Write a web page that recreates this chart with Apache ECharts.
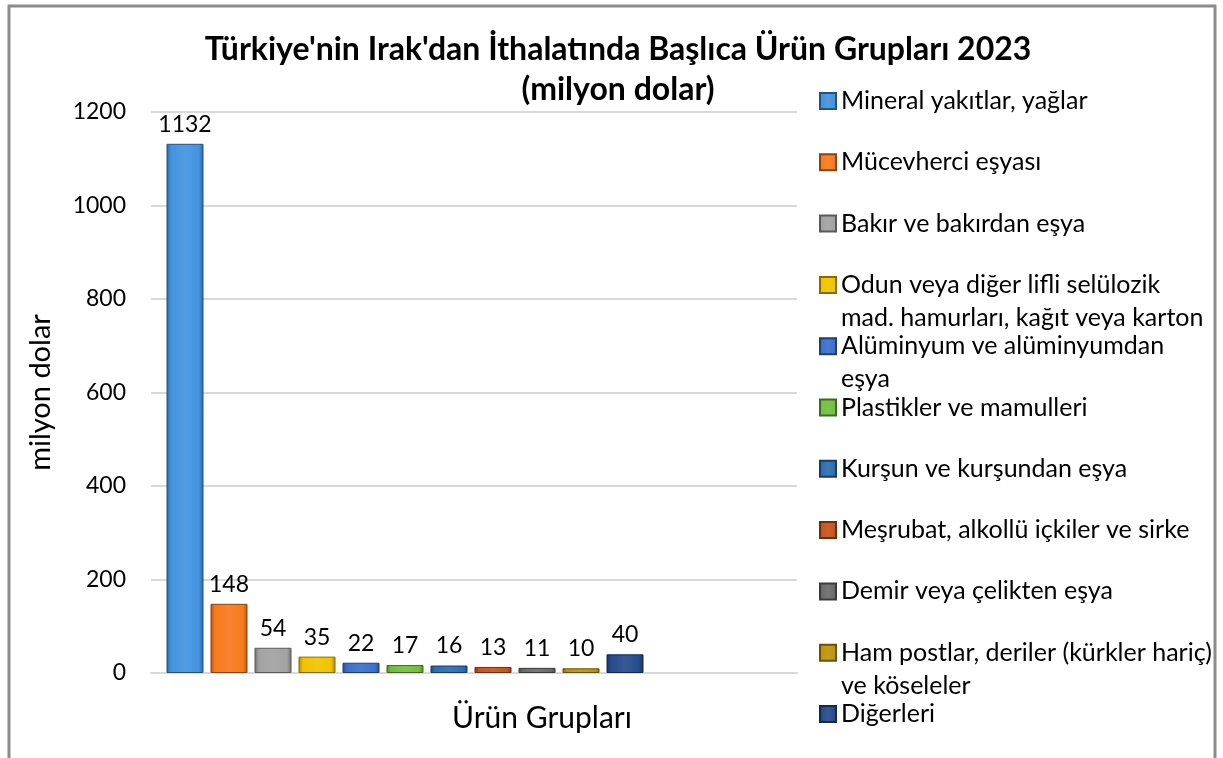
<!DOCTYPE html>
<html>
<head>
<meta charset="utf-8">
<script src="https://cdn.jsdelivr.net/npm/echarts@6/dist/echarts.min.js"></script>
<style>
  html, body { margin: 0; padding: 0; background: #fff; }
  #chart { width: 1223px; height: 758px; }
</style>
</head>
<body>
<div id="chart"></div>
<script>
// ürün grupları (legend metni, satır kırılımları ile)
const groupLabels = [
  'Mineral yakıtlar, yağlar',
  'Mücevherci eşyası',
  'Bakır ve bakırdan eşya',
  'Odun veya diğer lifli selülozik\nmad. hamurları, kağıt veya karton',
  'Alüminyum ve alüminyumdan\neşya',
  'Plastikler ve mamulleri',
  'Kurşun ve kurşundan eşya',
  'Meşrubat, alkollü içkiler ve sirke',
  'Demir veya çelikten eşya',
  'Ham postlar, deriler (kürkler hariç)\nve köseleler',
  'Diğerleri'
]
// milyon dolar
const importValues = [1132, 148, 54, 35, 22, 17, 16, 13, 11, 10, 40]
const barColors = ['#4393e0', '#f77a1c', '#a2a2a2', '#f2c300', '#3a70cc', '#72bf3e', '#2d6db0', '#c5541c', '#6b6b6b', '#be940c', '#264b8c']
const yTicks = [0, 200, 400, 600, 800, 1000, 1200]

const FONT = 'Lato'
const groupNames = groupLabels.map(s => s.replace('\n', ' '))

const chart = echarts.init(document.getElementById('chart'))

// renk tonu
function shade (hex, k) {
  const n = parseInt(hex.slice(1), 16)
  const f = c => Math.max(0, Math.min(255, Math.round(k < 0 ? c * (1 + k) : c + (255 - c) * k)))
  const r = f(n >> 16), g = f((n >> 8) & 255), b = f(n & 255)
  return 'rgb(' + r + ',' + g + ',' + b + ')'
}

const series = groupNames.map((name, i) => ({
  name: name,
  type: 'bar',
  xAxisIndex: 1,
  yAxisIndex: 1,
  stack: 'all',
  barWidth: 37,
  data: importValues.map((v, j) => (j === i ? v : '-')),
  itemStyle: {
    color: new echarts.graphic.LinearGradient(0, 0, 1, 0, [
      { offset: 0, color: shade(barColors[i], -0.3) },
      { offset: 0.12, color: barColors[i] },
      { offset: 0.5, color: shade(barColors[i], 0.08) },
      { offset: 0.88, color: barColors[i] },
      { offset: 1, color: shade(barColors[i], -0.3) }
    ]),
    borderColor: shade(barColors[i], -0.45),
    borderWidth: 1
  },
  label: {
    show: true,
    position: 'top',
    distance: 8,
    color: '#000',
    fontFamily: FONT,
    fontSize: 23
  }
}))

// legend: her grup ayrı, eşit aralıkla
const LH = 33
const legends = groupLabels.map((txt, i) => {
  const lines = txt.split('\n').length
  const n = lines > 1 ? lines + 1 : 1
  const center = 101 + i * 61.3
  return {
    data: [groupNames[i]],
    orient: 'vertical',
    left: 819,
    top: center - n * LH / 2,
    padding: 0,
    itemWidth: 16,
    itemHeight: 16,
    itemGap: 0,
    icon: 'rect',
    formatter: () => (lines > 1 ? '\n' + txt : txt),
    textStyle: { fontFamily: FONT, fontSize: 25, color: '#000', lineHeight: LH }
  }
})

const option = {
  backgroundColor: '#fff',
  animation: false,
  title: [
    {
      text: "Türkiye'nin Irak'dan İthalatında Başlıca Ürün Grupları 2023\n(milyon dolar)",
      left: 613,
      top: 25,
      textAlign: 'center',
      textStyle: { fontFamily: FONT, fontSize: 32, fontWeight: 'bold', color: '#000', lineHeight: 40 }
    },
    {
      text: 'Ürün Grupları',
      left: 537,
      top: 698,
      textAlign: 'center',
      textStyle: { fontFamily: FONT, fontSize: 30, fontWeight: 'normal', color: '#000' }
    }
  ],
  legend: legends,
  grid: [
    { left: 151, right: 426, top: 112, bottom: 85 },
    { left: 163, width: 484, top: 112, bottom: 85 }
  ],
  xAxis: [
    {
      gridIndex: 0,
      type: 'category',
      data: [''],
      axisLine: { show: true, lineStyle: { color: '#d9d9d9', width: 2 } },
      axisTick: { show: false },
      axisLabel: { show: false }
    },
    {
      gridIndex: 1,
      type: 'category',
      data: groupNames,
      axisLine: { show: false },
      axisTick: { show: false },
      axisLabel: { show: false }
    }
  ],
  yAxis: [
    {
      gridIndex: 0,
      type: 'value',
      min: yTicks[0],
      max: yTicks[yTicks.length - 1],
      interval: 200,
      name: 'milyon dolar',
      nameLocation: 'middle',
      nameGap: 96,
      nameTextStyle: { fontFamily: FONT, fontSize: 29, color: '#000' },
      axisLine: { show: false },
      axisTick: { show: false },
      axisLabel: { margin: 25, fontFamily: FONT, fontSize: 23, color: '#000', formatter: v => String(v) },
      splitLine: { lineStyle: { color: '#d9d9d9', width: 2 } }
    },
    {
      gridIndex: 1,
      type: 'value',
      min: yTicks[0],
      max: yTicks[yTicks.length - 1],
      show: false,
      splitLine: { show: false }
    }
  ],
  graphic: [
    {
      type: 'rect',
      shape: { x: 9, y: 6, width: 1206, height: 800 },
      style: { fill: 'none', stroke: '#8c8c8c', lineWidth: 3 },
      silent: true
    }
  ],
  series: series
}

chart.setOption(option)
</script>
</body>
</html>
